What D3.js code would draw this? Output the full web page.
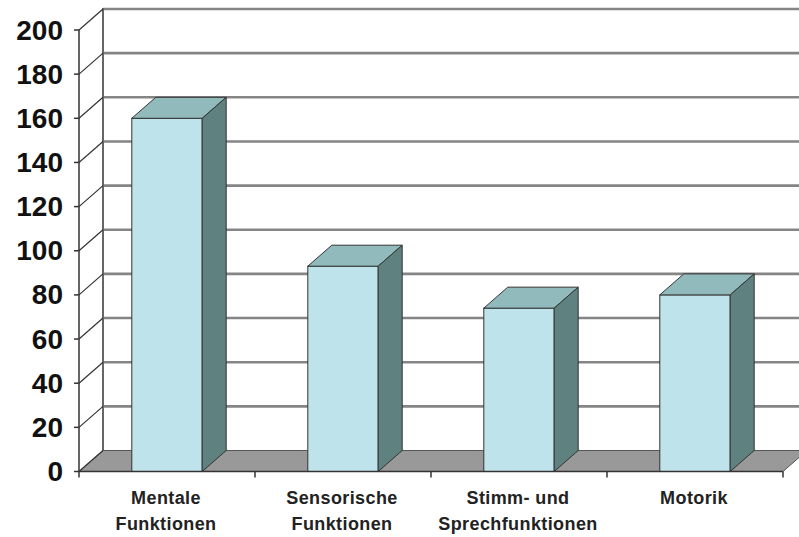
<!DOCTYPE html>
<html>
<head>
<meta charset="utf-8">
<script src="https://cdn.jsdelivr.net/npm/d3@7"></script>
<style>
  html, body { margin: 0; padding: 0; background: #ffffff; }
  svg { display: block; }
</style>
</head>
<body>
<svg id="chart" width="799" height="537"></svg>
<script>
// Categories (two-line labels) and counts
const categories = ["Mentale Funktionen", "Sensorische Funktionen", "Stimm- und Sprechfunktionen", "Motorik"];
const labelLines = [["Mentale", "Funktionen"], ["Sensorische", "Funktionen"], ["Stimm- und", "Sprechfunktionen"], ["Motorik"]];
const values = [160, 93, 74, 80];
const yTicks = [0, 20, 40, 60, 80, 100, 120, 140, 160, 180, 200];

const svg = d3.select("#chart");

// Front plane geometry and 3D depth offset
const x0 = 79, x1 = 783;
const yBottom = 471.5, yTop = 30;
const depthX = 24, depthY = -21;

const x = d3.scaleBand().domain(categories).range([x0, x1]).paddingInner(0.6).paddingOuter(0.3);
const y = d3.scaleLinear().domain([0, 200]).range([yBottom, yTop]);

const gridColor = "#858585";
const lineColor = "#333333";

// Back wall gridlines
svg.append("g").selectAll("line").data(yTicks.filter(d => d > 0)).join("line")
  .attr("x1", x0 + depthX).attr("x2", x1 + depthX + 20)
  .attr("y1", d => y(d) + depthY).attr("y2", d => y(d) + depthY)
  .attr("stroke", gridColor).attr("stroke-width", 2.6);

// Left wall back edge
svg.append("line")
  .attr("x1", x0 + depthX).attr("x2", x0 + depthX)
  .attr("y1", y(200) + depthY - 1).attr("y2", y(0) + depthY)
  .attr("stroke", "#666666").attr("stroke-width", 2);

// Floor
svg.append("path")
  .attr("d", d3.line()([[x0, y(0)], [x1, y(0)], [x1 + depthX, y(0) + depthY], [x0 + depthX, y(0) + depthY]]) + "Z")
  .attr("fill", "#999999").attr("stroke", "#555555").attr("stroke-width", 1);

// Left wall diagonals from the front axis ticks to the back wall
svg.append("g").selectAll("line").data(yTicks).join("line")
  .attr("x1", x0).attr("x2", x0 + depthX)
  .attr("y1", d => y(d)).attr("y2", d => y(d) + depthY)
  .attr("stroke", lineColor).attr("stroke-width", 1.2);

// Bars as 3D boxes
const bw = x.bandwidth();
const bars = svg.append("g").selectAll("g").data(categories.map((c, i) => ({ c, v: values[i] }))).join("g");

bars.append("rect")
  .attr("x", d => x(d.c)).attr("y", d => y(d.v))
  .attr("width", bw).attr("height", d => y(0) - y(d.v))
  .attr("fill", "#bfe3eb").attr("stroke", lineColor).attr("stroke-width", 1);

bars.append("path")
  .attr("d", d => {
    const l = x(d.c), r = l + bw, t = y(d.v);
    return d3.line()([[l, t], [l + depthX, t + depthY], [r + depthX, t + depthY], [r, t]]) + "Z";
  })
  .attr("fill", "#90babb").attr("stroke", lineColor).attr("stroke-width", 1);

bars.append("path")
  .attr("d", d => {
    const r = x(d.c) + bw, t = y(d.v), b = y(0);
    return d3.line()([[r, t], [r + depthX, t + depthY], [r + depthX, b + depthY], [r, b]]) + "Z";
  })
  .attr("fill", "#5f8180").attr("stroke", lineColor).attr("stroke-width", 1);

// Front value axis
const yAxis = svg.append("g");
yAxis.append("line")
  .attr("x1", x0).attr("x2", x0).attr("y1", y(200)).attr("y2", y(0))
  .attr("stroke", lineColor).attr("stroke-width", 1.5);
yAxis.selectAll("line.tick").data(yTicks).join("line").attr("class", "tick")
  .attr("x1", x0 - 5).attr("x2", x0).attr("y1", d => y(d)).attr("y2", d => y(d))
  .attr("stroke", lineColor).attr("stroke-width", 1.5);
yAxis.selectAll("text").data(yTicks).join("text")
  .attr("x", 63).attr("y", d => y(d)).attr("dy", "0.34em")
  .attr("text-anchor", "end")
  .attr("font-family", "Liberation Sans, Arial, sans-serif").attr("font-weight", "bold")
  .attr("font-size", 28).attr("fill", "#111111")
  .text(d => d);

// Front category axis
const xAxis = svg.append("g");
xAxis.append("line")
  .attr("x1", x0).attr("x2", x1).attr("y1", y(0)).attr("y2", y(0))
  .attr("stroke", lineColor).attr("stroke-width", 1.5);
const step = x.step();
xAxis.selectAll("line.tick").data(d3.range(categories.length + 1)).join("line").attr("class", "tick")
  .attr("x1", i => x0 + i * step).attr("x2", i => x0 + i * step)
  .attr("y1", y(0)).attr("y2", y(0) + 6)
  .attr("stroke", lineColor).attr("stroke-width", 1.5);

xAxis.selectAll("text").data(categories).join("text")
  .attr("x", d => x(d) + bw / 2)
  .attr("y", 504)
  .attr("text-anchor", "middle")
  .attr("font-family", "Liberation Sans, Arial, sans-serif").attr("font-weight", "bold")
  .attr("font-size", 18).attr("letter-spacing", 0.4).attr("fill", "#222222")
  .each(function(d, i) {
    d3.select(this).selectAll("tspan").data(labelLines[i]).join("tspan")
      .attr("x", x(d) + bw / 2 - 1)
      .attr("dy", (t, j) => j === 0 ? 0 : 26)
      .text(t => t);
  });
</script>
</body>
</html>
